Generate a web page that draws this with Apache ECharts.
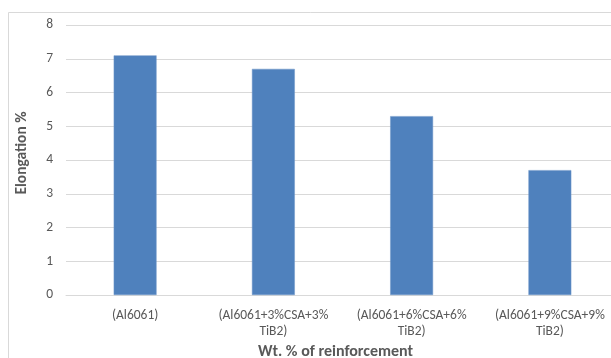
<!DOCTYPE html>
<html>
<head>
<meta charset="utf-8">
<script src="https://cdn.jsdelivr.net/npm/echarts@6/dist/echarts.min.js"></script>
<style>
html,body{margin:0;padding:0;background:#fff;}
#chart{width:611px;height:358px;}
</style>
</head>
<body>
<div id="chart"></div>
<script>
const categories = ["(Al6061)", "(Al6061+3%CSA+3%\nTiB2)", "(Al6061+6%CSA+6%\nTiB2)", "(Al6061+9%CSA+9%\nTiB2)"];
const elongation = [7.1, 6.7, 5.3, 3.7];
const yTicks = [0, 8, 1];

const chart = echarts.init(document.getElementById('chart'), null, {renderer: 'canvas'});
const font = "Carlito, Lato, 'Open Sans', 'Liberation Sans', sans-serif";
chart.setOption({
  animation: false,
  backgroundColor: '#ffffff',
  graphic: [{
    type: 'rect',
    shape: {x: 8.5, y: 12.5, width: 700, height: 400},
    style: {fill: 'none', stroke: '#d9d9d9', lineWidth: 1},
    silent: true
  }],
  grid: {left: 66, top: 25, width: 553, height: 270, containLabel: false, outerBoundsMode: 'none'},
  xAxis: {
    type: 'category',
    data: categories,
    axisLine: {show: true, lineStyle: {color: '#d9d9d9', width: 1}},
    axisTick: {show: false},
    axisLabel: {color: '#595959', fontSize: 13.5, fontFamily: font, margin: 13, lineHeight: 16, interval: 0},
    name: 'Wt. % of reinforcement',
    nameLocation: 'middle',
    nameGap: 49,
    nameMoveOverlap: false,
    nameTextStyle: {color: '#595959', fontSize: 16, fontWeight: 'bold', fontFamily: font, padding: [0, 14, 0, 0]}
  },
  yAxis: {
    type: 'value',
    min: yTicks[0], max: yTicks[1], interval: yTicks[2],
    axisLine: {show: false},
    axisTick: {show: false},
    splitLine: {lineStyle: {color: '#d9d9d9', width: 1}},
    axisLabel: {color: '#595959', fontSize: 13.5, fontFamily: font, margin: 13},
    name: 'Elongation %',
    nameLocation: 'middle',
    nameGap: 36,
    nameMoveOverlap: false,
    nameTextStyle: {color: '#595959', fontSize: 15.5, fontWeight: 'bold', fontFamily: font, padding: [0, 0, 0, 14]}
  },
  series: [{
    type: 'bar',
    data: elongation,
    barWidth: '31%',
    itemStyle: {color: '#4f81bd', borderColor: '#6f97c9', borderWidth: 0.5}
  }]
});
</script>
</body>
</html>
